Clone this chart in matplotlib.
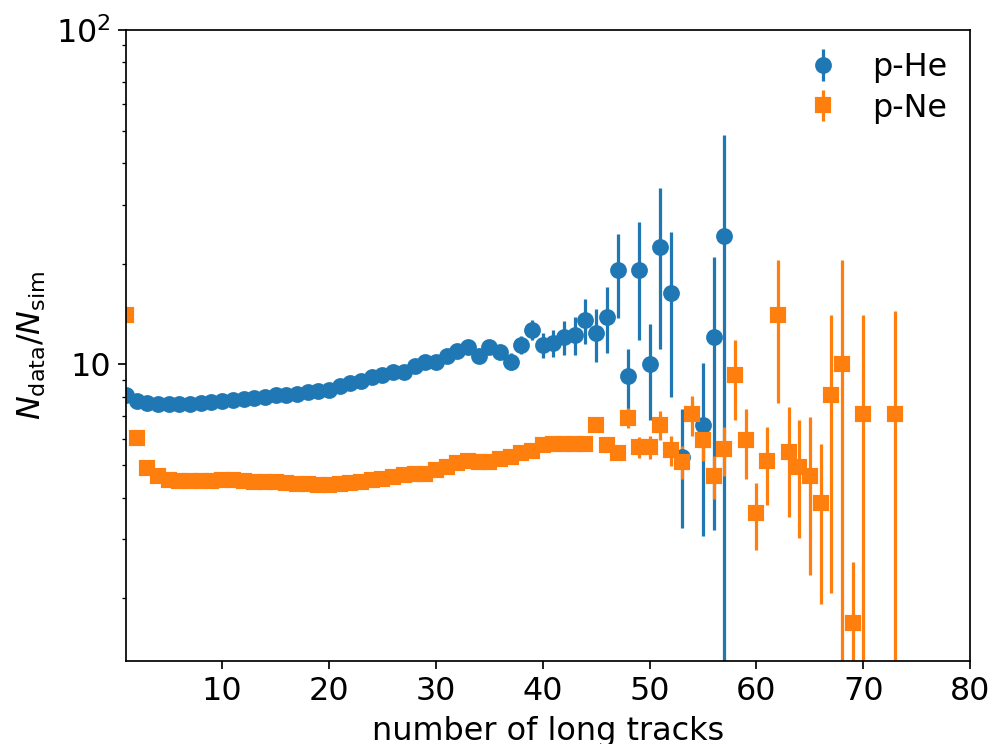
import matplotlib
matplotlib.use("Agg")
import matplotlib.pyplot as plt
from matplotlib.ticker import NullFormatter, FixedLocator, FixedFormatter

# p-He
he_x = list(range(1, 54)) + [55, 56, 57]
he_y = [8.08, 7.77, 7.68, 7.63, 7.64, 7.64, 7.64, 7.68, 7.72, 7.77,
        7.82, 7.90, 7.95, 8.00, 8.08, 8.13, 8.18, 8.26, 8.32, 8.41,
        8.61, 8.81, 8.95, 9.18, 9.33, 9.47, 9.52, 9.87, 10.14, 10.2,
        10.6, 11.0, 11.3, 10.57, 11.3, 10.9, 10.2, 11.45, 12.7, 11.45,
        11.6, 12.1, 12.27, 13.6, 12.4, 13.9, 19.2, 9.22, 19.2, 10.0,
        22.4, 16.4, 5.3, 6.58, 12.1, 24.2]
he_err = [0.05, 0.05, 0.05, 0.05, 0.05, 0.05, 0.05, 0.05, 0.05, 0.05,
          0.06, 0.06, 0.06, 0.07, 0.07, 0.08, 0.08, 0.09, 0.10, 0.10,
          0.11, 0.12, 0.13, 0.14, 0.16, 0.18, 0.20, 0.22, 0.25, 0.28,
          0.32, 0.36, 0.40, 0.42, 0.48, 0.55, 0.60, 0.70, 0.90, 1.0,
          1.1, 1.4, 1.6, 2.1, 2.2, 3.1, 5.4, 1.9, 7.4, 3.2,
          11.3, 8.4, 2.05, 3.5, 8.9, 24.3]

# p-Ne
ne_x = list(range(1, 71)) + [73]
ne_y = [14.06, 6.04, 4.89, 4.63, 4.52, 4.48, 4.47, 4.48, 4.49, 4.50,
        4.50, 4.48, 4.45, 4.44, 4.44, 4.42, 4.40, 4.38, 4.36, 4.35,
        4.38, 4.42, 4.46, 4.51, 4.56, 4.62, 4.67, 4.72, 4.72, 4.83,
        4.95, 5.09, 5.16, 5.12, 5.12, 5.20, 5.30, 5.44, 5.53, 5.76,
        5.79, 5.79, 5.79, 5.79, 6.61, 5.75, 5.43, 6.93, 5.65, 5.65,
        6.59, 5.55, 5.12, 7.09, 5.95, 4.63, 5.58, 9.33, 5.95, 3.61,
        5.16, 14.06, 5.48, 4.93, 4.65, 3.85, 8.08, 10.0, 1.69, 7.09,
        7.09]
ne_err = [0.3, 0.06, 0.03, 0.02, 0.02, 0.02, 0.02, 0.02, 0.02, 0.02,
          0.02, 0.02, 0.02, 0.02, 0.02, 0.02, 0.02, 0.02, 0.02, 0.02,
          0.02, 0.02, 0.02, 0.03, 0.03, 0.03, 0.03, 0.04, 0.04, 0.05,
          0.05, 0.06, 0.07, 0.07, 0.08, 0.09, 0.10, 0.11, 0.12, 0.14,
          0.15, 0.17, 0.19, 0.21, 0.25, 0.25, 0.20, 0.47, 0.40, 0.45,
          0.65, 0.57, 0.58, 0.97, 0.80, 0.68, 0.93, 2.5, 1.4, 0.82,
          1.35, 6.4, 1.98, 1.9, 2.3, 1.92, 6.0, 10.5, 0.87, 7.0,
          7.4]

plt.rcParams['font.size'] = 14.8
fig = plt.figure(figsize=(6.4, 4.8), dpi=155)
ax = fig.add_axes([0.127, 0.1116, 0.851, 0.8484])

ax.errorbar(he_x, he_y, yerr=he_err, fmt='o', ms=6.8, color='C0', label='p-He')
ax.errorbar(ne_x, ne_y, yerr=ne_err, fmt='s', ms=6.8, color='C1', label='p-Ne')

ax.set_yscale('log')
ax.set_xlim(1, 80)
ax.set_ylim(1.3, 100)
ax.yaxis.set_major_locator(FixedLocator([10, 100]))
ax.yaxis.set_major_formatter(FixedFormatter(['10', r'$10^2$']))
ax.yaxis.set_minor_formatter(NullFormatter())
ax.set_xticks([10, 20, 30, 40, 50, 60, 70, 80])

ax.set_xlabel('number of long tracks')
ax.set_ylabel(r'$N_{\rm data}/N_{\rm sim}$')
ax.legend(loc='upper right', frameon=False, handlelength=1.5,
          labelspacing=0.3, borderaxespad=0.3)

fig.savefig('out.png', dpi=155)
